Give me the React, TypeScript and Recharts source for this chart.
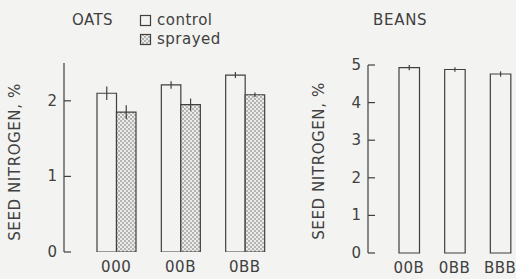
import { BarChart, Bar, XAxis, YAxis, ErrorBar } from "recharts";

// values
const oatGroups = ["000", "00B", "0BB"];
const oatControl = [2.1, 2.21, 2.34];
const oatControlErr = [0.09, 0.05, 0.04];
const oatSprayed = [1.85, 1.95, 2.08];
const oatSprayedErr = [0.09, 0.08, 0.03];

const beanGroups = ["00B", "0BB", "BBB"];
const beanValues = [4.93, 4.88, 4.76];
const beanErr = [0.07, 0.06, 0.07];

const oatTicks = [0, 1, 2];
const beanTicks = [0, 1, 2, 3, 4, 5];

const oatData = oatGroups.map((g, i) => ({
  group: g,
  control: oatControl[i],
  controlErr: oatControlErr[i],
  sprayed: oatSprayed[i],
  sprayedErr: oatSprayedErr[i],
}));

const beanData = beanGroups.map((g, i) => ({
  group: g,
  value: beanValues[i],
  err: beanErr[i],
}));

const INK = "#404040";
const BG = "#f3f3f1";
const FONT = "'DejaVu Sans', sans-serif";

// inward tick mark + label on the left of the axis
const YTick = (props: any) => {
  const { x, y, payload } = props;
  return (
    <g>
      <line x1={x} x2={x + 7} y1={y} y2={y} stroke={INK} strokeWidth={1.2} />
      <text
        x={x - 7}
        y={y}
        textAnchor="end"
        dominantBaseline="central"
        fontFamily={FONT}
        fontSize={15}
        fill={INK}
      >
        {payload.value}
      </text>
    </g>
  );
};

const XTick = (props: any) => {
  const { x, y, payload } = props;
  return (
    <text
      x={x}
      y={y + 15}
      textAnchor="middle"
      dominantBaseline="central"
      fontFamily={FONT}
      fontSize={15}
      letterSpacing={0.5}
      fill={INK}
    >
      {payload.value}
    </text>
  );
};

const yLabelStyle = (left: number, top: number): React.CSSProperties => ({
  position: "absolute",
  left,
  top,
  transform: "translate(-50%, -50%) rotate(-90deg)",
  whiteSpace: "nowrap",
  fontFamily: FONT,
  fontSize: 15,
  letterSpacing: 0.6,
  color: INK,
});

export default function App() {
  return (
    <div
      style={{
        position: "relative",
        width: 516,
        height: 279,
        overflow: "hidden",
        background: BG,
      }}
    >
      <style>{"body{margin:0;background:#f3f3f1}"}</style>

      {/* titles, legend and the hatch pattern */}
      <svg
        width={516}
        height={50}
        style={{ position: "absolute", left: 0, top: 0 }}
        fontFamily={FONT}
        fill={INK}
      >
        <defs>
          <pattern id="hatch" width={4} height={4} patternUnits="userSpaceOnUse">
            <rect width={4} height={4} fill="#ebebe9" />
            <rect x={0} y={0} width={2} height={2} fill="#b4b4b2" />
            <rect x={2} y={2} width={2} height={2} fill="#b4b4b2" />
          </pattern>
        </defs>
        <text x={72} y={25} fontSize={15} letterSpacing={0.4}>OATS</text>
        <rect x={140.5} y={15.5} width={10} height={10} fill={BG} stroke={INK} strokeWidth={1.2} />
        <text x={157} y={25} fontSize={15} letterSpacing={0.5}>control</text>
        <rect x={140.5} y={34.5} width={10} height={10} fill="url(#hatch)" stroke={INK} strokeWidth={1.2} />
        <text x={157} y={44} fontSize={15} letterSpacing={0.5}>sprayed</text>
        <text x={373} y={25} fontSize={15} letterSpacing={0.7}>BEANS</text>
      </svg>

      <div style={yLabelStyle(15, 162)}>SEED NITROGEN, %</div>
      <div style={yLabelStyle(319, 161)}>SEED NITROGEN, %</div>

      {/* OATS */}
      <div style={{ position: "absolute", left: 0, top: 0 }}>
        <BarChart
          width={277}
          height={279}
          data={oatData}
          margin={{ top: 63, right: 0, bottom: 0, left: 0 }}
          barGap={0}
          barSize={19.5}
        >
          <XAxis
            dataKey="group"
            axisLine={false}
            tickLine={false}
            height={27}
            padding={{ left: 20, right: 0 }}
            tick={<XTick />}
            tickSize={0}
            tickMargin={0}
            interval={0}
          />
          <YAxis
            width={64}
            domain={[0, 2.5]}
            ticks={oatTicks}
            allowDataOverflow
            axisLine={{ stroke: INK, strokeWidth: 1.2 }}
            tickLine={false}
            tickSize={0}
            tickMargin={0}
            tick={<YTick />}
          />
          <Bar dataKey="control" fill={BG} stroke={INK} strokeWidth={1.2} isAnimationActive={false}>
            <ErrorBar dataKey="controlErr" width={0} stroke={INK} strokeWidth={1.2} direction="y" />
          </Bar>
          <Bar dataKey="sprayed" fill="url(#hatch)" stroke={INK} strokeWidth={1.2} isAnimationActive={false}>
            <ErrorBar dataKey="sprayedErr" width={0} stroke={INK} strokeWidth={1.2} direction="y" />
          </Bar>
        </BarChart>
      </div>

      {/* BEANS */}
      <div style={{ position: "absolute", left: 300, top: 0 }}>
        <BarChart
          width={223}
          height={279}
          data={beanData}
          margin={{ top: 65, right: 0, bottom: 0, left: 0 }}
          barSize={20.5}
        >
          <XAxis
            dataKey="group"
            axisLine={false}
            tickLine={false}
            height={26}
            padding={{ left: 18, right: 0 }}
            tick={<XTick />}
            tickSize={0}
            tickMargin={0}
            interval={0}
          />
          <YAxis
            width={68}
            domain={[0, 5]}
            ticks={beanTicks}
            axisLine={{ stroke: INK, strokeWidth: 1.2 }}
            tickLine={false}
            tickSize={0}
            tickMargin={0}
            tick={<YTick />}
          />
          <Bar dataKey="value" fill={BG} stroke={INK} strokeWidth={1.2} isAnimationActive={false}>
            <ErrorBar dataKey="err" width={0} stroke={INK} strokeWidth={1.2} direction="y" />
          </Bar>
        </BarChart>
      </div>
    </div>
  );
}
